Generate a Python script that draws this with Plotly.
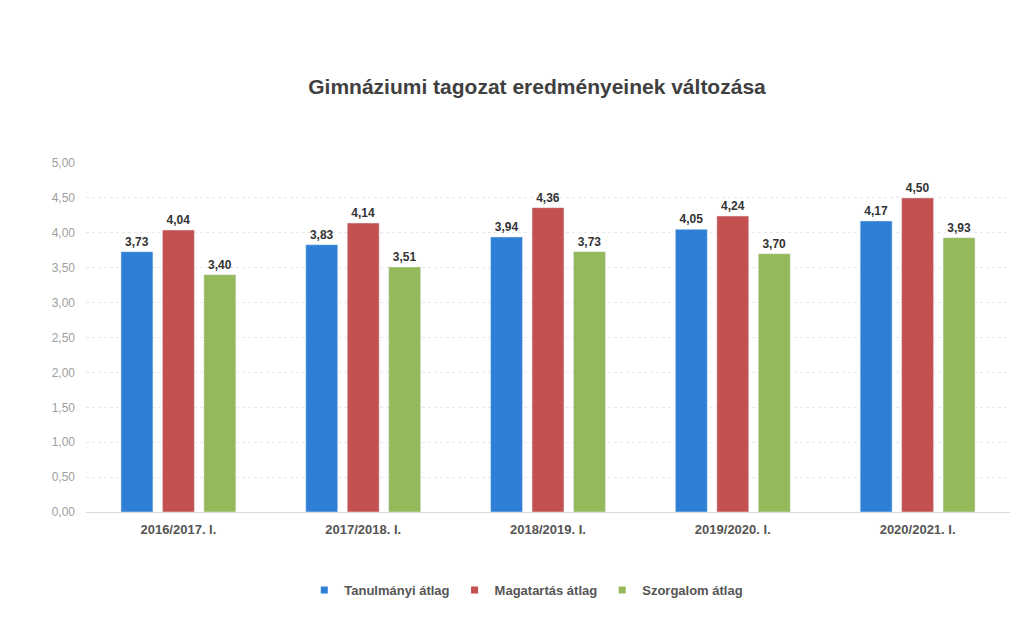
import plotly.graph_objects as go

categories = ["2016/2017. I.", "2017/2018. I.", "2018/2019. I.", "2019/2020. I.", "2020/2021. I."]
tanulmanyi = [3.73, 3.83, 3.94, 4.05, 4.17]
magatartas = [4.04, 4.14, 4.36, 4.24, 4.50]
szorgalom = [3.40, 3.51, 3.73, 3.70, 3.93]
series_names = ["Tanulmányi átlag", "Magatartás átlag", "Szorgalom átlag"]
colors = ["#2f7fd6", "#c4504f", "#94b85a"]
FONT = "Liberation Sans, Arial"

fig = go.Figure()
for name, vals, col in zip(series_names, [tanulmanyi, magatartas, szorgalom], colors):
    fig.add_trace(go.Bar(
        x=categories, y=vals, name=name, marker_color=col, showlegend=False,
        text=[f"<b>{v:.2f}</b>".replace(".", ",") for v in vals],
        textposition="outside", cliponaxis=False,
        textfont=dict(family=FONT, size=12, color="#333333"),
    ))
# legend entries with small square markers
for name, col in zip(series_names, colors):
    fig.add_trace(go.Scatter(
        x=[None], y=[None], mode="markers", name=f"<b>{name}</b>",
        marker=dict(symbol="square", size=7, color=col),
    ))

fig.update_layout(
    width=1028, height=620,
    paper_bgcolor="white", plot_bgcolor="white",
    separators=",.",
    title=dict(text="<b>Gimnáziumi tagozat eredményeinek változása</b>", x=0.5146, xanchor="center",
               y=0.8726, yanchor="middle",
               font=dict(family=FONT, size=21, color="#404040")),
    barmode="group", bargap=0.327, bargroupgap=0.229,
    margin=dict(l=78, r=26, t=155, b=116),
    xaxis=dict(showgrid=False, showline=True, linecolor="#d9d9d9", ticks="",
               automargin=False, ticklabelstandoff=5,
               tickfont=dict(family=FONT, size=13, color="#555555"),
               ticktext=[f"<b>{c}</b>" for c in categories], tickvals=categories),
    yaxis=dict(range=[0, 5], dtick=0.5, tickformat=".2f", showgrid=True,
               gridcolor="#e8e8e8", griddash="dot", zeroline=False, ticks="",
               automargin=False, ticklabelstandoff=10,
               tickfont=dict(family=FONT, size=12, color="#a0a0a0")),
    legend=dict(orientation="h", x=0.4765, xanchor="center", y=-0.2235, yanchor="middle",
                font=dict(family=FONT, size=13, color="#555555"),
                itemwidth=30),
)
fig.write_html("out.html")
